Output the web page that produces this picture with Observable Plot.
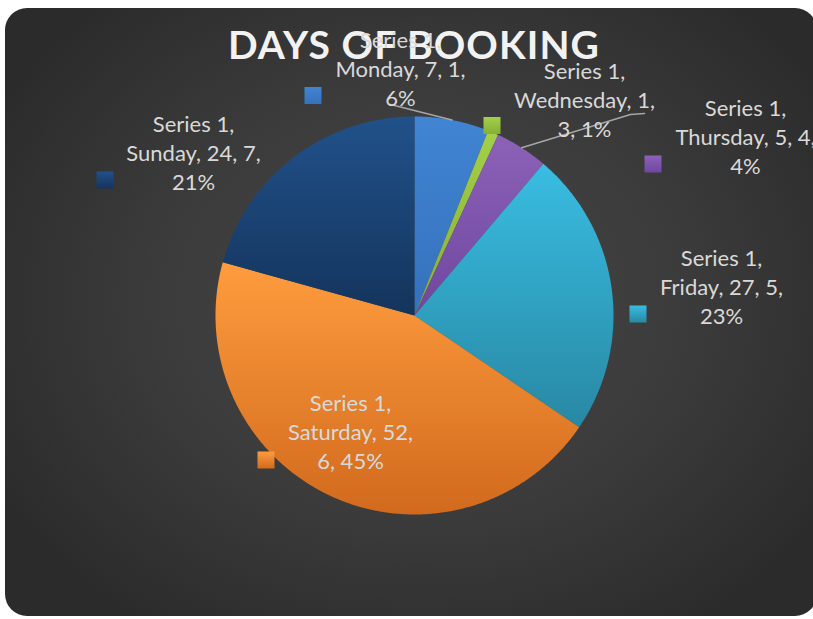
<!DOCTYPE html>
<html><head><meta charset="utf-8">
<script src="https://cdn.jsdelivr.net/npm/d3@7"></script>
<script src="https://cdn.jsdelivr.net/npm/@observablehq/plot@0.6"></script>
<style>
html,body{margin:0;padding:0;background:#fff;}
#wrap{position:relative;width:813px;height:619px;overflow:hidden;background:#fff;}
#card{position:absolute;left:5px;top:8px;width:812px;height:608px;border-radius:22px;
  background:radial-gradient(ellipse 60% 65% at 51% 48%, #474747 0%, #3b3b3b 55%, #2b2b2b 100%);}
#title{position:absolute;left:0;top:25px;width:813px;padding-left:15px;box-sizing:border-box;text-align:center;
  font-family:Lato, sans-serif;font-weight:bold;font-size:39px;letter-spacing:1.1px;color:#f2f2f2;line-height:1;}
#chart{position:absolute;left:0;top:0;}
</style></head>
<body><div id="wrap"><div id="card"></div><div id="title">DAYS OF BOOKING</div><div id="chart"></div></div>
<script>
// ---- data ----
const seriesName = "Series 1";
const days = ["Monday", "Wednesday", "Thursday", "Friday", "Saturday", "Sunday"];
const counts = [7, 1, 5, 27, 52, 24];
const dayIndex = [1, 3, 4, 5, 6, 7];
const percents = ["6%", "1%", "4%", "23%", "45%", "21%"];
const colorTop = ["#4084d3", "#a3d04a", "#8c62b8", "#39bde2", "#ff9c3e", "#21518a"];
const colorBottom = ["#3571bb", "#86ae35", "#6f479f", "#2888a3", "#d16a1d", "#14345c"];

// ---- layout (positions only) ----
const W = 813, H = 619;
const cx = 414, cy = 315, R = 199;
const lineBreaks = [[1,3,1],[1,2,2],[1,3,1],[1,3,1],[1,2,2],[1,3,1]];
const labelPos = [[400,67],[584,98],[745,135],[721,285],[350,430],[193,151]];
const keyPos = [[312.5,95],[491.5,125],[652.5,163.5],[637.5,313.5],[265.5,459.5],[104.5,179.5]];
const leaderMid = {0: [[390,104]], 2: [[630,114],[644,113]]};

// ---- derived ----
const arcs = d3.pie().sort(null).startAngle(0).endAngle(2*Math.PI)(counts);
const slicePts = [];
arcs.forEach((a, i) => {
  slicePts.push({x: cx, y: cy, i});
  const n = Math.max(2, Math.ceil((a.endAngle - a.startAngle) / (Math.PI/360)));
  for (let k = 0; k <= n; k++) {
    const t = a.startAngle + (a.endAngle - a.startAngle) * k / n;
    slicePts.push({x: cx + R*Math.sin(t), y: cy - R*Math.cos(t), i});
  }
});
const labels = days.map((d, i) => {
  const parts = [seriesName, d, String(counts[i]), String(dayIndex[i]), percents[i]];
  let lines = [], p = 0;
  lineBreaks[i].forEach((n) => {
    const seg = parts.slice(p, p + n); p += n;
    lines.push(seg.join(", ") + (p < parts.length ? "," : ""));
  });
  return {x: labelPos[i][0], y: labelPos[i][1], text: lines.join("\n")};
});
const keys = days.map((d, i) => ({x: keyPos[i][0], y: keyPos[i][1], fill: `url(#k${i})`}));
const leaders = [];
Object.entries(leaderMid).forEach(([i, pts]) => {
  i = +i;
  const a = (arcs[i].startAngle + arcs[i].endAngle) / 2;
  leaders.push({x: cx + R*Math.sin(a), y: cy - R*Math.cos(a), i});
  pts.forEach(p => leaders.push({x: p[0], y: p[1], i}));
});

const plot = Plot.plot({
  width: W, height: H,
  margin: 0,
  x: {domain: [0, W], range: [0, W], axis: null},
  y: {domain: [0, H], range: [0, H], axis: null},
  color: {type: "identity"},
  style: {background: "transparent", overflow: "visible"},
  marks: [
    Plot.line(slicePts, {x: "x", y: "y", z: "i", fill: d => `url(#g${d.i})`, stroke: null, curve: "linear-closed"}),
    Plot.line(leaders, {x: "x", y: "y", z: "i", stroke: "#a6a6a6", strokeWidth: 1.5}),
    Plot.dot(keys, {x: "x", y: "y", symbol: "square", r: 9.6, fill: "fill", stroke: null}),
    Plot.text(labels, {x: "x", y: "y", text: "text", fontSize: 22, fontFamily: "Lato, sans-serif",
      lineHeight: 1.32, fill: "#d9d9d9", textAnchor: "middle"})
  ]
});
const defs = days.map((d, i) =>
  `<linearGradient id="g${i}" x1="0" y1="0" x2="0" y2="1"><stop offset="0" stop-color="${colorTop[i]}"/><stop offset="1" stop-color="${colorBottom[i]}"/></linearGradient>` +
  `<linearGradient id="k${i}" x1="0" y1="0" x2="0" y2="1"><stop offset="0" stop-color="${colorTop[i]}"/><stop offset="1" stop-color="${colorBottom[i]}"/></linearGradient>`
).join("");
plot.insertAdjacentHTML("afterbegin", `<defs>${defs}</defs>`);
document.getElementById("chart").appendChild(plot);
</script>
</body></html>
